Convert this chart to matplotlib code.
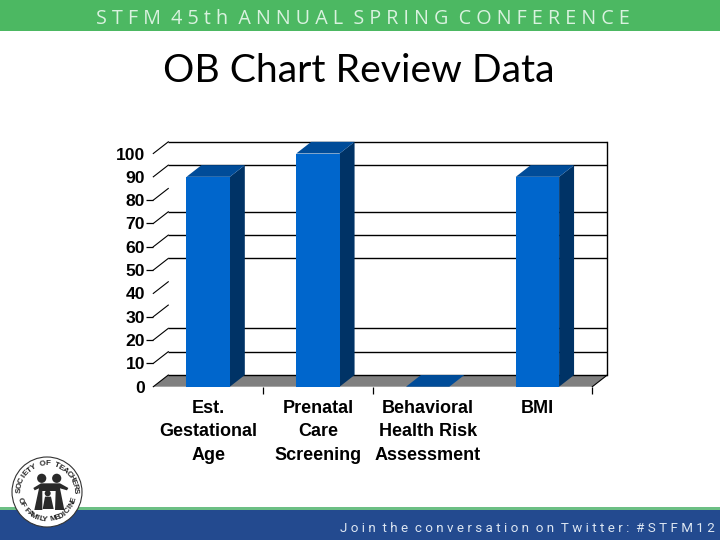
import numpy as np
import matplotlib
matplotlib.use("Agg")
import matplotlib.pyplot as plt
from matplotlib.patches import Polygon, Rectangle, Circle

# ---- data ----
categories = ["Est.\nGestational\nAge", "Prenatal\nCare\nScreening",
              "Behavioral\nHealth Risk\nAssessment", "BMI"]
values = [90, 100, 0, 90]
y_ticks = [0, 10, 20, 30, 40, 50, 60, 70, 80, 90, 100]
y_ticks_with_mark = [10, 20, 30, 50, 60, 70, 80]
gridlines_shown = [0, 10, 20, 50, 60, 70, 90, 100]
x_marks = [1, 2, 4]
title = "OB Chart Review Data"
header = "S T F M  4 5 t h  A N N U A L  S P R I N G  C O N F E R E N C E"
footer = "J o i n  t h e  c o n v e r s a t i o n  o n  T w i t t e r :  # S T F M 1 2"
logo_top = "SOCIETY OF TEACHERS"
logo_bottom = "OF FAMILY MEDICINE"

W, H = 720, 540
fig = plt.figure(figsize=(7.2, 5.4), dpi=100, facecolor="white")

# slide furniture, in pixel coordinates
bg = fig.add_axes([0, 0, 1, 1])
bg.set_xlim(0, W); bg.set_ylim(H, 0); bg.axis("off")
bg.add_patch(Rectangle((0, 0), W, 31, fc="#4CB862", ec="none"))
bg.add_patch(Rectangle((0, 507), W, 3, fc="#6CBF84", ec="none"))
bg.add_patch(Rectangle((0, 510), W, 30, fc="#234A8F", ec="none"))
bg.text(362.5, 18.5, header, ha="center", va="center", color="#D9F2DF",
        family="Open Sans", fontsize=14.2)
bg.text(527, 528, footer, ha="center", va="center", color="#DDE6F2",
        family="Roboto", fontsize=9.6)
bg.text(359, 70.5, title, ha="center", va="center", color="black",
        family="Lato", fontsize=28.2)

# logo
cx, cy, r = 47, 492, 35
bg.add_patch(Circle((cx, cy), r, fc="white", ec="#333333", lw=0.8, zorder=5))
def z(pts):
    return [(5 + a / 3, 455 + b / 3) for a, b in pts]
dark = "#2A2A2A"
bg.add_patch(Polygon(z([(85, 99), (108, 85), (165, 85), (190, 99), (186, 106), (165, 100),
                        (178, 165), (150, 165), (152, 108), (112, 108), (112, 165),
                        (88, 165), (102, 100), (89, 106)]),
                     fc=dark, ec="none", zorder=6))
bg.add_patch(Polygon(z([(120, 125), (138, 125), (146, 162), (113, 162)]),
                     fc=dark, ec="none", zorder=6))
for (hx, hy, hr) in [(41.7, 478.3, 4.6), (56.7, 478.3, 4.6), (47.7, 493.3, 3.0)]:
    bg.add_patch(Circle((hx, hy), hr, fc=dark, ec="none", zorder=6))
for s, a0, a1, sign in [(logo_top, 176, 2, 1), (logo_bottom, 197, 343, -1)]:
    for ch, a in zip(s, np.linspace(a0, a1, len(s))):
        t = np.deg2rad(a)
        bg.text(cx + 28 * np.cos(t), cy - 28 * np.sin(t), ch, ha="center", va="center",
                rotation=a - 90 if sign > 0 else a + 90, rotation_mode="anchor",
                family="Liberation Sans", weight="bold", fontsize=5.8, color="#222222", zorder=7)

# chart: front plane of the 3-D plot
x0, x1, y_top, y_bot = 153.3, 592.3, 153.5, 386.7
ax = fig.add_axes([x0 / W, 1 - y_bot / H, (x1 - x0) / W, (y_bot - y_top) / H])
ax.patch.set_alpha(0)
ax.set_xlim(0, 4); ax.set_ylim(0, 100)
dx, dy = 15 / 110, 5.0     # depth of the 3-D box
bw = 0.395
for s in ax.spines.values():
    s.set_visible(False)

def poly(pts, **kw):
    ax.add_patch(Polygon(pts, clip_on=False, **kw))

# floor
poly([(0, 0), (4, 0), (4 + dx, dy), (dx, dy)], fc="#808080", ec="none", zorder=1)
# gridlines on the back wall and their diagonals on the side wall
for v in gridlines_shown:
    ax.plot([dx, 4 + dx], [v + dy, v + dy], color="black", lw=1.0, clip_on=False, zorder=2,
            solid_capstyle="butt")
for v in y_ticks:
    ax.plot([0, dx], [v, v + dy], color="black", lw=0.8, clip_on=False, zorder=2)
ax.plot([4 + dx, 4 + dx], [dy, 100 + dy], color="black", lw=1.0, clip_on=False, zorder=2)
ax.plot([4, 4 + dx], [0, dy], color="black", lw=0.8, clip_on=False, zorder=2)

# bars
centers = np.arange(len(values)) + 0.5
for c, v in zip(centers, values):
    l, rr = c - bw / 2, c + bw / 2
    poly([(rr, 0), (rr + dx, dy), (rr + dx, v + dy), (rr, v)], fc="#003366", ec="none", zorder=3)
    poly([(l, v), (rr, v), (rr + dx, v + dy), (l + dx, v + dy)], fc="#004C99", ec="none", zorder=3)
ax.bar(centers, values, width=bw, color="#0066CC", zorder=4)

# axes
ax.set_yticks(y_ticks)
ax.set_yticklabels([str(v) for v in y_ticks], family="Liberation Sans", weight="bold", fontsize=12.6)
ax.tick_params(axis="y", length=5, width=0.9, pad=1, color="black")
for v, tk in zip(y_ticks, ax.yaxis.get_major_ticks()):
    if v not in y_ticks_with_mark:
        tk.tick1line.set_visible(False)
ax.set_xticks(x_marks)
ax.set_xticklabels([])
ax.tick_params(axis="x", which="major", length=5, width=0.9)
ax.set_xticks(centers, minor=True)
ax.set_xticklabels(categories, minor=True, family="Liberation Sans", weight="bold",
                   fontsize=13, linespacing=1.49)
ax.tick_params(axis="x", which="minor", length=0, pad=9.5)

fig.savefig("out.png", dpi=100)
